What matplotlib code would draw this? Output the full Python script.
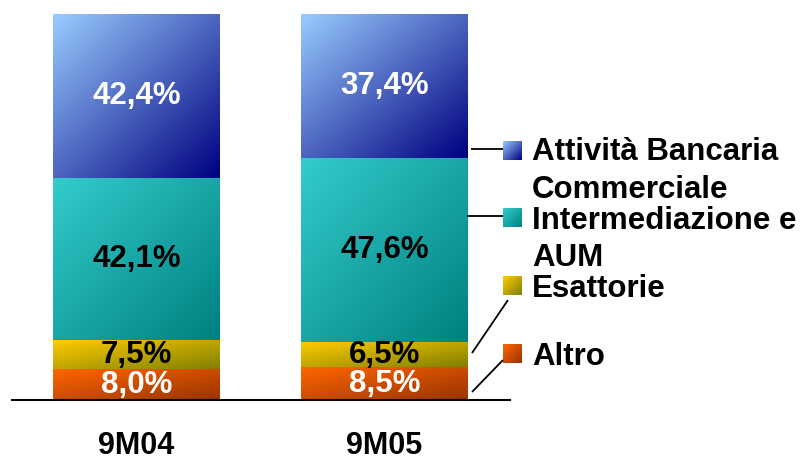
import numpy as np
import matplotlib
matplotlib.use("Agg")
import matplotlib.pyplot as plt
from matplotlib.colors import LinearSegmentedColormap
from matplotlib.transforms import blended_transform_factory

# ---------------- data ----------------
categories = ["9M04", "9M05"]
series_names = ["Altro", "Esattorie", "Intermediazione e\nAUM", "Attività Bancaria\nCommerciale"]
altro = [8.0, 8.5]
esattorie = [7.5, 6.5]
intermediazione = [42.1, 47.6]
attivita = [42.4, 37.4]
series_values = [altro, esattorie, intermediazione, attivita]

# ---------------- styles ----------------
grad_colors = [("#FF6600", "#993300"),
               ("#FFCC00", "#808000"),
               ("#33CCCC", "#008080"),
               ("#99CCFF", "#000080")]
label_colors = ["white", "black", "black", "white"]
FONT = "Liberation Sans"

W, H = 805, 461
fig = plt.figure(figsize=(W / 100, H / 100), dpi=100)

# main axes: x positions 0,1 ; y 0..100
px_c0, px_c1 = 136.5, 384.5
unit = px_c1 - px_c0
ax = fig.add_axes([0, (H - 400) / H, 1, 386 / H])
ax.axis("off")
bar_w = 167 / unit


def grad_image(a, x0, x1, yb, yt, c_light, c_dark, clip=None, z=2):
    n = 120
    xx, yy = np.meshgrid(np.linspace(0, 1, n), np.linspace(0, 1, n))
    t = (xx + (1 - yy)) / 2
    cmap = LinearSegmentedColormap.from_list("g", [c_light, c_dark])
    im = a.imshow(t, extent=(x0, x1, yb, yt), origin="lower", cmap=cmap,
                  aspect="auto", interpolation="bicubic", zorder=z, vmin=0, vmax=1)
    if clip is not None:
        im.set_clip_path(clip)
    return im


x = np.arange(len(categories))
bottom = np.zeros(len(categories))
for si, vals in enumerate(series_values):
    bars = ax.bar(x, vals, width=bar_w, bottom=bottom, facecolor="none",
                  edgecolor="none", linewidth=0, zorder=3)
    for rect, v in zip(bars.patches, vals):
        rx, ry, rw, rh = rect.get_x(), rect.get_y(), rect.get_width(), rect.get_height()
        grad_image(ax, rx, rx + rw, ry, ry + rh, *grad_colors[si], clip=rect)
        ax.text(rx + rw / 2, ry + rh / 2, f"{v:.1f}%".replace(".", ","),
                ha="center", va="center", fontsize=22.5, fontweight="bold",
                family=FONT, color=label_colors[si], zorder=5)
    bottom = bottom + np.array(vals)

ax.set_xlim(-px_c0 / unit, (W - px_c0) / unit)
ax.set_ylim(0, 100)

# baseline
ax.axhline(0, xmin=12 / W, xmax=510 / W, color="black", lw=1.5, zorder=6, clip_on=False)

# category labels
trans = blended_transform_factory(ax.transData, ax.transAxes)
for xi, cat in zip(x, categories):
    ax.text(xi, (400 - 454) / 386, cat, transform=trans, ha="center", va="baseline",
            fontsize=22, fontweight="bold", family=FONT, color="black")

# ---------------- legend (pixel overlay) ----------------
ov = fig.add_axes([0, 0, 1, 1], zorder=10)
ov.set_xlim(0, W)
ov.set_ylim(H, 0)
ov.axis("off")

# legend entries in display order top->bottom
leg_order = [3, 2, 1, 0]
marker_top = [141, 208, 276, 344]
text_baselines = [[160, 198], [229, 266], [297], [365]]
for k, si in enumerate(leg_order):
    mt = marker_top[k]
    grad_image(ov, 503, 522, mt + 19, mt, *grad_colors[si], z=11)
    lines = series_names[si].split("\n")
    for line, yb in zip(lines, text_baselines[k]):
        ov.text(532, yb, line, ha="left", va="baseline", fontsize=22.5,
                fontweight="bold", family=FONT, color="black", zorder=12)

# leader lines
leaders = [((471, 149), (503, 149)),
           ((467, 216), (503, 216)),
           ((472, 353), (508, 300)),
           ((472, 392), (503, 360))]
for (x0, y0), (x1, y1) in leaders:
    ov.plot([x0, x1], [y0, y1], color="black", lw=1.3, zorder=12, solid_capstyle="butt")
ov.set_xlim(0, W)
ov.set_ylim(H, 0)

fig.savefig("out.png", dpi=100)
